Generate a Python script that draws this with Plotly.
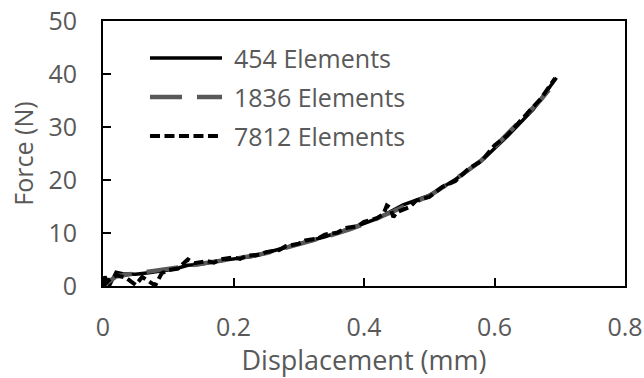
import plotly.graph_objects as go

# ---- data ----
x454 = [0, 0.003, 0.01, 0.02, 0.03, 0.05, 0.07, 0.09, 0.11, 0.13, 0.15, 0.17, 0.2, 0.23,
        0.26, 0.3, 0.34, 0.38, 0.42, 0.46, 0.5, 0.54, 0.58, 0.62, 0.66, 0.695]
f454 = [0.3, 1.8, 0.1, 2.6, 2.3, 2.2, 2.5, 2.9, 3.2, 3.9, 4.1, 4.6, 5.1, 5.6,
        6.6, 8.0, 9.3, 10.9, 12.7, 15.3, 17.1, 20.1, 23.6, 28.3, 33.4, 39.3]

x1836 = [0, 0.01, 0.02, 0.04, 0.06, 0.08, 0.10, 0.12, 0.15, 0.18, 0.20, 0.23, 0.25, 0.28,
         0.30, 0.33, 0.35, 0.38, 0.40, 0.43, 0.45, 0.48, 0.50, 0.53, 0.55, 0.58, 0.60,
         0.63, 0.65, 0.67, 0.69, 0.695]
f1836 = [0, 1.0, 1.8, 2.2, 2.5, 2.8, 3.1, 3.6, 4.2, 4.7, 5.0, 5.7, 6.2, 7.2,
         8.0, 9.0, 9.6, 10.8, 11.7, 13.3, 14.4, 15.9, 17.0, 19.4, 21.0, 23.7, 26.2,
         29.7, 32.3, 35.0, 38.0, 38.8]

x7812 = [0, 0.01, 0.02, 0.035, 0.05, 0.06, 0.07, 0.08, 0.09, 0.1, 0.115, 0.125, 0.13, 0.14,
         0.16, 0.17, 0.18, 0.2, 0.21, 0.22, 0.24, 0.25, 0.27, 0.28, 0.3, 0.31, 0.33, 0.34,
         0.36, 0.37, 0.39, 0.4, 0.42, 0.43, 0.435, 0.44, 0.445, 0.45, 0.47, 0.48, 0.5,
         0.52, 0.54, 0.56, 0.58, 0.6, 0.62, 0.64, 0.67, 0.693]
f7812 = [0, 1.2, 2.0, 1.6, 0.2, 1.7, 0.9, 0.1, 2.4, 3.0, 3.3, 4.6, 5.0, 4.3,
         4.7, 4.4, 5.0, 5.4, 5.1, 5.7, 5.9, 6.4, 6.8, 7.5, 8.0, 8.6, 9.0, 9.7,
         10.1, 10.9, 11.3, 12.1, 12.8, 13.6, 15.2, 14.8, 13.0, 13.9, 14.9, 16.1, 16.8,
         18.7, 19.8, 22.1, 23.6, 26.5, 28.5, 31.2, 35.2, 39.2]

names = ["454 Elements", "1836 Elements", "7812 Elements"]
x_ticks = [0, 0.2, 0.4, 0.6, 0.8]
x_tick_labels = ["0", "0.2", "0.4", "0.6", "0.8"]
y_ticks = [0, 10, 20, 30, 40, 50]

FONT = "Open Sans"
GRAY = "#595959"
styles = [dict(color="black", width=3.5),
          dict(color=GRAY, width=4.5, dash="32px,15px"),
          dict(color="black", width=4, dash="10px,4.5px")]

fig = go.Figure()
for xs, ys, nm, st in zip([x454, x1836, x7812], [f454, f1836, f7812], names, styles):
    fig.add_trace(go.Scatter(x=xs, y=ys, mode="lines", name=nm, line=st,
                             showlegend=False))

# legend drawn with long symbols (paper coordinates)
legend_y = [0.860, 0.713, 0.566]
for ly, nm, st in zip(legend_y, names, styles):
    fig.add_shape(type="line", xref="paper", yref="paper",
                  x0=0.090, x1=0.228, y0=ly, y1=ly, line=st)
    fig.add_annotation(xref="paper", yref="paper", x=0.247, y=ly,
                       xanchor="left", yanchor="middle", showarrow=False,
                       text=nm, font=dict(family=FONT, size=25, color=GRAY))

axis_common = dict(showline=True, mirror=True, linecolor="black", linewidth=2,
                   ticks="inside", ticklen=8, tickwidth=2, tickcolor="black",
                   showgrid=False, zeroline=False, automargin=False,
                   tickfont=dict(family=FONT, size=25, color=GRAY))

fig.update_layout(
    width=644, height=378,
    margin=dict(l=103, r=19, t=21, b=92),
    paper_bgcolor="white", plot_bgcolor="white",
    showlegend=False,
    xaxis=dict(range=[0, 0.8], tickvals=x_ticks, ticktext=x_tick_labels,
               ticklabelstandoff=18,
               title=dict(text="Displacement (mm)", standoff=10,
                          font=dict(family=FONT, size=27, color=GRAY)),
               **axis_common),
    yaxis=dict(range=[0, 50], tickvals=y_ticks, ticklabelstandoff=19,
               title=dict(text="Force (N)", standoff=8,
                          font=dict(family=FONT, size=25, color=GRAY)),
               **axis_common),
)

fig.write_html("out.html")
